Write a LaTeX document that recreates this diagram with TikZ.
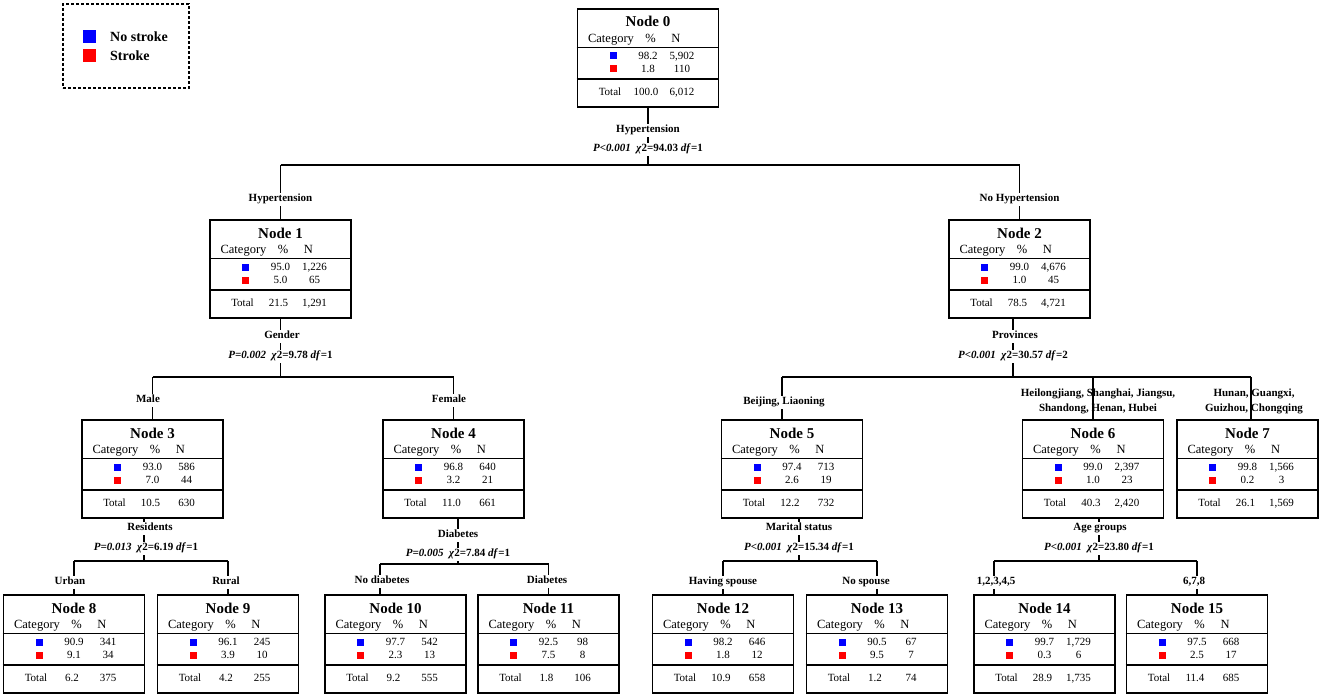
\documentclass[tikz,border=0pt]{standalone}
\usepackage{fontspec}
\setmainfont{Liberation Serif}
\usepackage{xcolor}
\usepackage{tikz}
\usetikzlibrary{positioning,calc,backgrounds}

\tikzset{
  nodebox/.style={draw, line width=1.6pt, minimum width=141pt, minimum height=98pt, inner sep=0pt, anchor=north},
  rule/.style={line width=1.6pt},
  edge/.style={line width=1.4pt},
  catsq/.style={minimum size=7pt, inner sep=0pt},
  titletext/.style={font=\fontsize{15}{17}\selectfont\bfseries, inner sep=0pt, text height=10pt, text depth=0pt},
  headtext/.style={font=\fontsize{12.5}{14}\selectfont, inner sep=0pt, text height=8.3pt, text depth=0pt},
  celltext/.style={font=\fontsize{11}{13}\selectfont, inner sep=0pt, text height=7.5pt, text depth=0pt},
  splittext/.style={font=\fontsize{11}{13}\selectfont\bfseries, fill=white, inner sep=1.5pt, text height=7.5pt, text depth=2.5pt, yshift=-1.25pt},
  twoline/.style={font=\fontsize{11}{14.5}\selectfont\bfseries, align=center, inner sep=0pt},
  legendbox/.style={draw, line width=1.5pt, dash pattern=on 3pt off 2pt, minimum width=126pt, minimum height=84pt},
  legendtext/.style={font=\fontsize{14}{16}\selectfont\bfseries, anchor=west, inner sep=0pt, text height=9.3pt, text depth=0pt}
}

% one tree node: id, x, top, pct/n stroke-free, pct/n stroke, pct/n total
\newcommand{\treebox}[9]{%
  \node[nodebox] (n#1) at (#2,#3) {};
  \node[titletext] (n#1-title) at ($(n#1.north)+(0,14)$) {Node #1};
  \node[headtext] (n#1-cat) at ($(n#1.north)+(-37,30)$) {Category};
  \node[headtext] (n#1-pct) at ($(n#1.north)+(2.5,30)$) {\%};
  \node[headtext] (n#1-n) at ($(n#1.north)+(28,30)$) {N};
  \draw[rule] ($(n#1.north west)+(0,39.5)$) -- ($(n#1.north east)+(0,39.5)$);
  \node[catsq, fill=blue] (n#1-sqa) at ($(n#1.north)+(-35,48)$) {};
  \node[celltext] (n#1-pa) at ($(n#1.north)+(0,48)$) {#4};
  \node[celltext] (n#1-na) at ($(n#1.north)+(34,48)$) {#5};
  \node[catsq, fill=red] (n#1-sqb) at ($(n#1.north)+(-35,61)$) {};
  \node[celltext] (n#1-pb) at ($(n#1.north)+(0,61)$) {#6};
  \node[celltext] (n#1-nb) at ($(n#1.north)+(34,61)$) {#7};
  \draw[rule] ($(n#1.north west)+(0,71)$) -- ($(n#1.north east)+(0,71)$);
  \node[celltext] (n#1-tot) at ($(n#1.north)+(-38,84)$) {Total};
  \node[celltext] (n#1-pt) at ($(n#1.north)+(-2,84)$) {#8};
  \node[celltext] (n#1-nt) at ($(n#1.north)+(34,84)$) {#9};
}
\newcommand{\statline}[3]{\textit{P#1}~~\textit{χ}2=#2 \textit{df}=#3}

\begin{document}
\begin{tikzpicture}[x=1pt,y=-1pt]
    \useasboundingbox (0,0) rectangle (1325,695);

    % Legend
    \node[legendbox] (legend) at (126,46) {};
    \node[catsq, minimum size=13pt, fill=blue] (leg-sqa) at (89.5,36.5) {};
    \node[catsq, minimum size=13pt, fill=red] (leg-sqb) at (89.5,55.5) {};
    \node[legendtext] (leg-a) at (110,37) {No stroke};
    \node[legendtext] (leg-b) at (110,56) {Stroke};

    % Boxes
    \treebox{0}{648}{8}{98.2}{5,902}{1.8}{110}{100.0}{6,012}
    \treebox{1}{280.5}{219}{95.0}{1,226}{5.0}{65}{21.5}{1,291}
    \treebox{2}{1019.5}{219}{99.0}{4,676}{1.0}{45}{78.5}{4,721}
    \treebox{3}{152.5}{419}{93.0}{586}{7.0}{44}{10.5}{630}
    \treebox{4}{453.5}{419}{96.8}{640}{3.2}{21}{11.0}{661}
    \treebox{5}{792}{419}{97.4}{713}{2.6}{19}{12.2}{732}
    \treebox{6}{1093}{419}{99.0}{2,397}{1.0}{23}{40.3}{2,420}
    \treebox{7}{1247.5}{419}{99.8}{1,566}{0.2}{3}{26.1}{1,569}
    \treebox{8}{74}{594}{90.9}{341}{9.1}{34}{6.2}{375}
    \treebox{9}{228}{594}{96.1}{245}{3.9}{10}{4.2}{255}
    \treebox{10}{395.5}{594}{97.7}{542}{2.3}{13}{9.2}{555}
    \treebox{11}{548.5}{594}{92.5}{98}{7.5}{8}{1.8}{106}
    \treebox{12}{723}{594}{98.2}{646}{1.8}{12}{10.9}{658}
    \treebox{13}{877}{594}{90.5}{67}{9.5}{7}{1.2}{74}
    \treebox{14}{1044.5}{594}{99.7}{1,729}{0.3}{6}{28.9}{1,735}
    \treebox{15}{1197}{594}{97.5}{668}{2.5}{17}{11.4}{685}

    % Split labels
    \node[splittext] (s0-var) at (648,129) {Hypertension};
    \node[splittext] (s0-stat) at (648,148) {\statline{<0.001}{94.03}{1}};
    \node[splittext] (s1-var) at (282,335) {Gender};
    \node[splittext] (s1-stat) at (280.5,355) {\statline{=0.002}{9.78}{1}};
    \node[splittext] (s2-var) at (1015,335) {Provinces};
    \node[splittext] (s2-stat) at (1013,355) {\statline{<0.001}{30.57}{2}};
    \node[splittext] (s3-var) at (150,527) {Residents};
    \node[splittext] (s3-stat) at (146,547) {\statline{=0.013}{6.19}{1}};
    \node[splittext] (s4-var) at (458,534) {Diabetes};
    \node[splittext] (s4-stat) at (458,553) {\statline{=0.005}{7.84}{1}};
    \node[splittext] (s5-var) at (799,527) {Marital status};
    \node[splittext] (s5-stat) at (799,547) {\statline{<0.001}{15.34}{1}};
    \node[splittext] (s6-var) at (1100,527) {Age groups};
    \node[splittext] (s6-stat) at (1099,547) {\statline{<0.001}{23.80}{1}};

    % Branch labels
    \node[splittext] (l1) at (280.5,198) {Hypertension};
    \node[splittext] (l2) at (1019.5,198) {No Hypertension};
    \node[splittext] (l3) at (148,399) {Male};
    \node[splittext] (l4) at (449,399) {Female};
    \node[splittext] (l5) at (784,401) {Beijing, Liaoning};
    \node[twoline] (l6) at (1098,401.5) {Heilongjiang, Shanghai, Jiangsu,\\Shandong, Henan, Hubei};
    \node[twoline] (l7) at (1254,401.5) {Hunan, Guangxi,\\Guizhou, Chongqing};
    \node[splittext] (l8) at (70,581) {Urban};
    \node[splittext] (l9) at (226,581) {Rural};
    \node[splittext] (l10) at (382,580) {No diabetes};
    \node[splittext] (l11) at (547,580) {Diabetes};
    \node[splittext] (l12) at (723,581) {Having spouse};
    \node[splittext] (l13) at (866,581) {No spouse};
    \node[splittext] (l14) at (996,581) {1,2,3,4,5};
    \node[splittext] (l15) at (1194,581) {6,7,8};

    % Connectors
    \begin{pgfonlayer}{background}
        \coordinate (b0) at (648,165);
        \draw[edge] (n0.south) -- (b0);
        \draw[edge] (n1.north |- b0) -- (n2.north |- b0);
        \draw[edge] (n1.north |- b0) -- (n1.north);
        \draw[edge] (n2.north |- b0) -- (n2.north);

        \coordinate (b1) at (280.5,377);
        \draw[edge] (n1.south) -- (b1);
        \draw[edge] (n3.north |- b1) -- (n4.north |- b1);
        \draw[edge] (n3.north |- b1) -- (n3.north);
        \draw[edge] (n4.north |- b1) -- (n4.north);

        \coordinate (b2) at (1013,377);
        \coordinate (c5) at (782,377);
        \coordinate (c7) at (1251,377);
        \draw[edge] (b2 |- n2.south) -- (b2);
        \draw[edge] (c5) -- (c7);
        \draw[edge] (c5) -- (c5 |- n5.north);
        \draw[edge] (n6.north |- b2) -- (n6.north);
        \draw[edge] (c7) -- (c7 |- n7.north);

        \coordinate (b3) at (144,561);
        \draw[edge] (b3 |- n3.south) -- (b3);
        \draw[edge] (n8.north |- b3) -- (n9.north |- b3);
        \draw[edge] (n8.north |- b3) -- (n8.north);
        \draw[edge] (n9.north |- b3) -- (n9.north);

        \coordinate (b4) at (458,564);
        \coordinate (c10) at (380,564);
        \draw[edge] (b4 |- n4.south) -- (b4);
        \draw[edge] (c10) -- (n11.north |- b4);
        \draw[edge] (c10) -- (c10 |- n10.north);
        \draw[edge] (n11.north |- b4) -- (n11.north);

        \coordinate (b5) at (799,561);
        \draw[edge] (b5 |- n5.south) -- (b5);
        \draw[edge] (n12.north |- b5) -- (n13.north |- b5);
        \draw[edge] (n12.north |- b5) -- (n12.north);
        \draw[edge] (n13.north |- b5) -- (n13.north);

        \coordinate (b6) at (1099,561);
        \coordinate (c14) at (994,561);
        \draw[edge] (b6 |- n6.south) -- (b6);
        \draw[edge] (c14) -- (n15.north |- b6);
        \draw[edge] (c14) -- (c14 |- n14.north);
        \draw[edge] (n15.north |- b6) -- (n15.north);
    \end{pgfonlayer}
\end{tikzpicture}
\end{document}
